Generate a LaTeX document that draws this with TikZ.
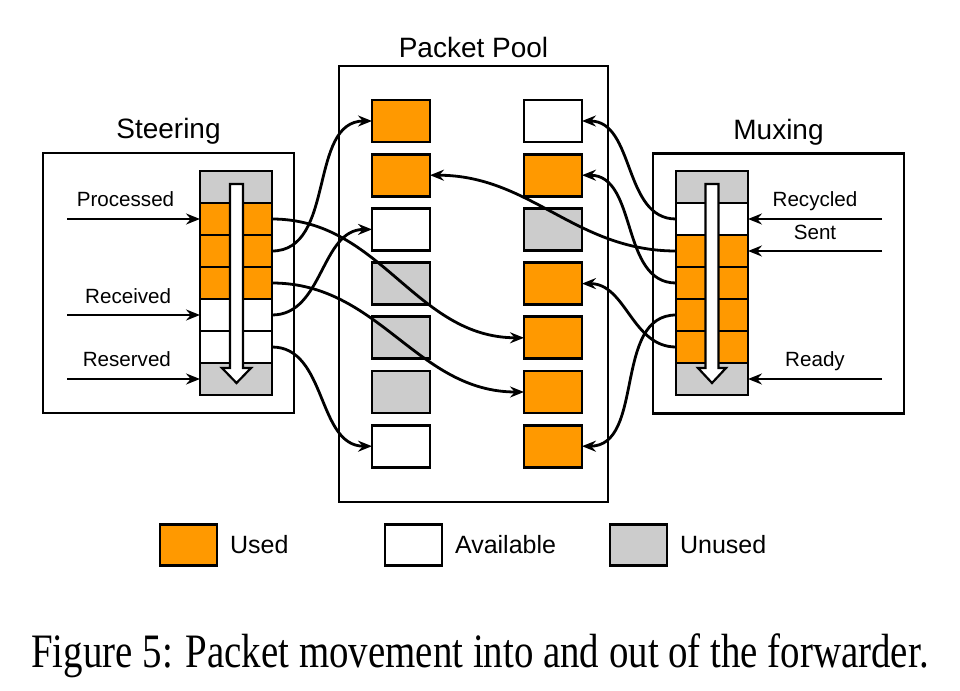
\documentclass[tikz,border=0pt]{standalone}
\usepackage{graphicx}
\usepackage{fontspec}
\setmainfont{Liberation Sans}
\newfontfamily\captionserif{Liberation Serif}
\usepackage{tikz}
\usetikzlibrary{arrows.meta, positioning}
\definecolor{usedorange}{HTML}{FF9900}
\definecolor{unusedgray}{HTML}{CCCCCC}
\tikzset{
    % Simple boxes and cells to match the packet diagram
    container/.style = {rectangle, draw, line width=1.2pt, minimum width=125.5pt, minimum height=130pt, inner sep=0pt, outer sep=0pt},
    poolcell/.style = {rectangle, draw, line width=1.4pt, minimum width=29pt, minimum height=21pt, inner sep=0pt, outer sep=0pt},
    queuecell/.style = {rectangle, draw, line width=1.1pt, minimum width=36pt, minimum height=16pt, inner sep=0pt, outer sep=0pt},
    usedcell/.style = {fill=usedorange},
    availcell/.style = {fill=white},
    unusedcell/.style = {fill=unusedgray},
    arrow/.style = {line width=1.4pt, -{Stealth[length=7pt, width=5.5pt, inset=2.4pt]}}
}

\begin{document}
\begin{tikzpicture}[x=0.5pt, y=-0.5pt]

\tikzstyle{heading} = [font=\fontsize{14}{16}\selectfont, inner sep=0pt, text depth=0pt]
\tikzstyle{lbl} = [font=\fontsize{10.3}{12}\selectfont, inner sep=0pt, text depth=0pt]
\tikzstyle{keytext} = [font=\fontsize{12.5}{14}\selectfont]

\path[use as bounding box, fill=white] (0,0) rectangle (960,691);

% Boxes
\node[container] (steering) at (168.5,283) {};
\node[container, minimum width=134.5pt, minimum height=218pt] (pool) at (473.5,284) {};
\node[container] (muxing) at (778.5,283.5) {};
\node[heading, above=7pt of steering] (steering_title) {Steering};
\node[heading, above=4pt of pool] (pool_title) {Packet Pool};
\node[heading, above=7pt of muxing] (muxing_title) {Muxing};

% Steering queue
\node[queuecell, unusedcell] (sq1) at (236,187) {};
\node[queuecell, usedcell, below=0pt of sq1] (sq2) {};
\node[queuecell, usedcell, below=0pt of sq2] (sq3) {};
\node[queuecell, usedcell, below=0pt of sq3] (sq4) {};
\node[queuecell, availcell, below=0pt of sq4] (sq5) {};
\node[queuecell, availcell, below=0pt of sq5] (sq6) {};
\node[queuecell, unusedcell, below=0pt of sq6] (sq7) {};
\draw[line width=1.1pt, fill=white] (230,184) -- (243,184) -- (243,368) -- (251,368) -- (236.5,383) -- (222,368) -- (230,368) -- cycle;

% Muxing queue
\node[queuecell, unusedcell] (mq1) at (712,187) {};
\node[queuecell, availcell, below=0pt of mq1] (mq2) {};
\node[queuecell, usedcell, below=0pt of mq2] (mq3) {};
\node[queuecell, usedcell, below=0pt of mq3] (mq4) {};
\node[queuecell, usedcell, below=0pt of mq4] (mq5) {};
\node[queuecell, usedcell, below=0pt of mq5] (mq6) {};
\node[queuecell, unusedcell, below=0pt of mq6] (mq7) {};
\draw[line width=1.1pt, fill=white] (705.5,184) -- (718.5,184) -- (718.5,368) -- (726,368) -- (712,383) -- (698,368) -- (705.5,368) -- cycle;

% Pool, left column
\node[poolcell, usedcell] (pl1) at (401,121) {};
\node[poolcell, usedcell, below=6.1pt of pl1] (pl2) {};
\node[poolcell, availcell, below=6.1pt of pl2] (pl3) {};
\node[poolcell, unusedcell, below=6.1pt of pl3] (pl4) {};
\node[poolcell, unusedcell, below=6.1pt of pl4] (pl5) {};
\node[poolcell, unusedcell, below=6.1pt of pl5] (pl6) {};
\node[poolcell, availcell, below=6.1pt of pl6] (pl7) {};

% Pool, right column
\node[poolcell, availcell] (pr1) at (553,121) {};
\node[poolcell, usedcell, below=6.1pt of pr1] (pr2) {};
\node[poolcell, unusedcell, below=6.1pt of pr2] (pr3) {};
\node[poolcell, usedcell, below=6.1pt of pr3] (pr4) {};
\node[poolcell, usedcell, below=6.1pt of pr4] (pr5) {};
\node[poolcell, usedcell, below=6.1pt of pr5] (pr6) {};
\node[poolcell, usedcell, below=6.1pt of pr6] (pr7) {};

% Inputs
\coordinate (processed_in) at (67,219);
\coordinate (received_in) at (67,315);
\coordinate (reserved_in) at (67,379);
\coordinate (recycled_in) at (882,219);
\coordinate (sent_in) at (882,251);
\coordinate (ready_in) at (882,379);
\draw[arrow] (processed_in) -- node[lbl, above=5.5pt, pos=0.44] {Processed} (sq2.west);
\draw[arrow] (received_in) -- node[lbl, above=5pt, pos=0.46] {Received} (sq5.west);
\draw[arrow] (reserved_in) -- node[lbl, above=5.5pt, pos=0.45] {Reserved} (sq7.west);
\draw[arrow] (recycled_in) -- node[lbl, above=5.5pt, pos=0.5] {Recycled} (mq2.east);
\draw[arrow] (sent_in) -- node[lbl, above=5pt, pos=0.5] {Sent} (mq3.east);
\draw[arrow] (ready_in) -- node[lbl, above=5.5pt, pos=0.5] {Ready} (mq7.east);

% Arrows
\draw[arrow] (sq2.east) to[out=0, in=180] (pr5.west);
\draw[arrow] (sq3.east) to[out=0, in=180] (pl1.west);
\draw[arrow] (sq4.east) to[out=0, in=180] (pr6.west);
\draw[arrow] (sq5.east) to[out=0, in=180] (pl3.west);
\draw[arrow] (sq6.east) to[out=0, in=180] (pl7.west);
\draw[arrow] (mq2.west) to[out=180, in=0] (pr1.east);
\draw[arrow] (mq3.west) to[out=180, in=0] (pl2.east);
\draw[arrow] (mq4.west) to[out=180, in=0] (pr2.east);
\draw[arrow] (mq5.west) to[out=180, in=0] (pr7.east);
\draw[arrow] (mq6.west) to[out=180, in=0] (pr4.east);

% Legend
\node[poolcell, usedcell, minimum width=28.5pt, minimum height=20.5pt] (used_key) at (188.5,545) {};
\node[keytext, right=3pt of used_key] (used_text) {Used};
\node[poolcell, availcell, minimum width=28.5pt, minimum height=20.5pt] (avail_key) at (413.5,545) {};
\node[keytext, right=3pt of avail_key] (avail_text) {Available};
\node[poolcell, unusedcell, minimum width=28.5pt, minimum height=20.5pt] (unused_key) at (638.5,545) {};
\node[keytext, right=3pt of unused_key] (unused_text) {Unused};

% Caption
\node[anchor=base] (caption) at (480,667) {\scalebox{0.81}[1]{\captionserif\fontsize{24}{28}\selectfont Figure 5: Packet movement into and out of the forwarder.}};

\end{tikzpicture}
\end{document}
